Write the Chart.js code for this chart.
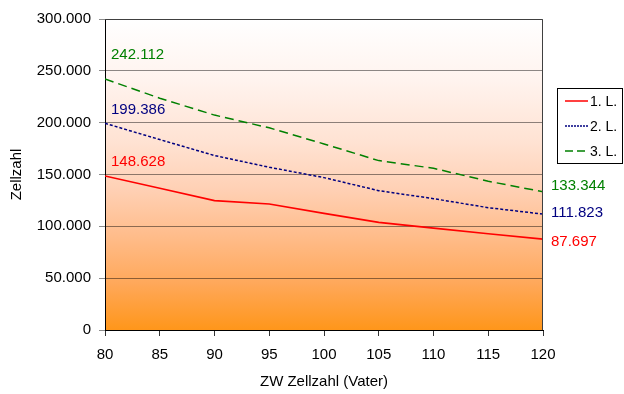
<!DOCTYPE html>
<html>
<head>
<meta charset="utf-8">
<script src="https://cdn.jsdelivr.net/npm/chart.js@4/dist/chart.umd.min.js"></script>
<style>
  html, body { margin: 0; padding: 0; background: #fff; }
  #wrap { width: 624px; height: 394px; }
</style>
</head>
<body>
<div id="wrap"><canvas id="c" width="624" height="394"></canvas></div>
<script>
// Zuchtwert Zellzahl des Vaters (x) gegen Zellzahl je Laktation (y)
const zwVater = [80, 85, 90, 95, 100, 105, 110, 115, 120];
const laktation1 = [148628, 136700, 124800, 121600, 112500, 103800, 98300, 92900, 87697];
const laktation2 = [199386, 183700, 168300, 157000, 147000, 134400, 126700, 118000, 111823];
const laktation3 = [242112, 223600, 207300, 195000, 179500, 163400, 156000, 143500, 133344];
const seriesNames = ['1. L.', '2. L.', '3. L.'];
const yTicks = [0, 50000, 100000, 150000, 200000, 250000, 300000];

const FONT = 'Liberation Sans, Arial, sans-serif';

function fmtDE(v) {
  return Math.round(v).toString().replace(/\B(?=(\d{3})+(?!\d))/g, '.');
}

function points(values) {
  return zwVater.map((x, i) => ({ x: x, y: values[i] }));
}

// Plot background: white at the top fading to orange at the bottom
const backgroundPlugin = {
  id: 'plotBackground',
  beforeDraw(chart) {
    const { ctx, chartArea: a } = chart;
    const g = ctx.createLinearGradient(0, a.top, 0, a.bottom);
    g.addColorStop(0.00, '#ffffff');
    g.addColorStop(0.20, '#fff3ee');
    g.addColorStop(0.40, '#ffe2d2');
    g.addColorStop(0.55, '#ffd0b4');
    g.addColorStop(0.70, '#ffbc8a');
    g.addColorStop(0.85, '#ffa85a');
    g.addColorStop(1.00, '#ff961a');
    ctx.save();
    ctx.fillStyle = g;
    ctx.fillRect(a.left, a.top, a.right - a.left, a.bottom - a.top);
    ctx.restore();
  }
};

// Frame, value labels at both ends of each line, and the legend box
const decorPlugin = {
  id: 'decor',
  afterDatasetsDraw(chart, args, opts) {
    const { ctx, chartArea: a } = chart;
    ctx.save();
    // top / right frame of the plot area
    ctx.strokeStyle = '#404040';
    ctx.lineWidth = 1;
    ctx.beginPath();
    ctx.moveTo(a.left, a.top + 0.5);
    ctx.lineTo(a.right - 0.5, a.top + 0.5);
    ctx.lineTo(a.right - 0.5, a.bottom);
    ctx.stroke();

    // end labels
    ctx.font = '15px ' + FONT;
    ctx.textBaseline = 'middle';
    chart.data.datasets.forEach((ds, i) => {
      const meta = chart.getDatasetMeta(i);
      const first = meta.data[0];
      const last = meta.data[meta.data.length - 1];
      const off = opts.offsets[i];
      ctx.fillStyle = ds.labelColor;
      ctx.textAlign = 'left';
      ctx.fillText(fmtDE(ds.data[0].y), first.x + 6, first.y + off.start);
      ctx.fillText(fmtDE(ds.data[ds.data.length - 1].y), last.x + 8, last.y + off.end);
    });

    // legend
    const lx = 557, ly = 88, lw = 66, lh = 76;
    ctx.fillStyle = '#ffffff';
    ctx.fillRect(lx, ly, lw, lh);
    ctx.strokeStyle = '#000000';
    ctx.lineWidth = 1;
    ctx.strokeRect(lx + 0.5, ly + 0.5, lw - 1, lh - 1);
    ctx.font = '14px ' + FONT;
    ctx.textAlign = 'left';
    chart.data.datasets.forEach((ds, i) => {
      const y = ly + 13 + i * 25;
      ctx.strokeStyle = ds.borderColor;
      ctx.lineWidth = 1.5;
      ctx.setLineDash(ds.legendDash);
      ctx.beginPath();
      ctx.moveTo(lx + 8, y);
      ctx.lineTo(lx + 31, y);
      ctx.stroke();
      ctx.setLineDash([]);
      ctx.fillStyle = '#000000';
      ctx.fillText(ds.label, lx + 33, y + 1);
    });
    ctx.restore();
  }
};

new Chart(document.getElementById('c'), {
  type: 'line',
  data: {
    datasets: [
      { label: seriesNames[0], data: points(laktation1), borderColor: '#ff0000', labelColor: '#ff0000',
        borderWidth: 1.6, borderDash: [], legendDash: [] },
      { label: seriesNames[1], data: points(laktation2), borderColor: '#000080', labelColor: '#000080',
        borderWidth: 1.5, borderDash: [3, 2], legendDash: [2, 1] },
      { label: seriesNames[2], data: points(laktation3), borderColor: '#008000', labelColor: '#008000',
        borderWidth: 1.5, borderDash: [9, 5], legendDash: [8, 4] }
    ]
  },
  options: {
    responsive: false,
    animation: false,
    devicePixelRatio: 1,
    layout: { padding: { top: 19, right: 81, left: 0, bottom: 0 } },
    elements: {
      point: { radius: 0, hoverRadius: 0 },
      line: { tension: 0, fill: false }
    },
    plugins: {
      legend: { display: false },
      tooltip: { enabled: false },
      decor: {
        offsets: [
          { start: -14, end: 3 },
          { start: -13, end: -1 },
          { start: -24, end: -6 }
        ]
      }
    },
    scales: {
      x: {
        type: 'linear',
        min: 80, max: 120,
        afterFit(s) { s.height = 64; },
        border: { color: '#000000', width: 1 },
        grid: { drawOnChartArea: false, drawTicks: true, tickLength: 6, color: '#333333' },
        ticks: { stepSize: 5, padding: 10, color: '#000000', font: { family: FONT, size: 15 } },
        title: { display: true, text: 'ZW Zellzahl (Vater)', color: '#000000',
                 font: { family: FONT, size: 15 }, padding: { top: 4, bottom: 3 } }
      },
      y: {
        min: 0, max: 300000,
        afterFit(s) { s.width = 105; },
        afterBuildTicks(s) { s.ticks = yTicks.map(v => ({ value: v })); },
        border: { color: '#000000', width: 1 },
        grid: { color: 'rgba(0,0,0,0.45)', tickLength: 6, lineWidth: 1 },
        ticks: { padding: 8, color: '#000000', font: { family: FONT, size: 15 },
                 callback: v => fmtDE(v) },
        title: { display: true, text: 'Zellzahl', color: '#000000',
                 font: { family: FONT, size: 15 }, padding: { top: 8, bottom: 0 } }
      }
    }
  },
  plugins: [backgroundPlugin, decorPlugin]
});
</script>
</body>
</html>
